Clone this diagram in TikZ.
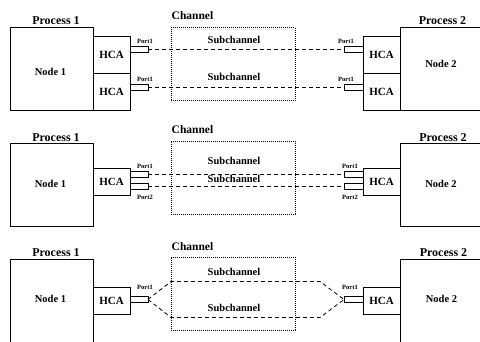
\documentclass[tikz,border=0pt]{standalone}
\usepackage{fontspec}
\setmainfont{Liberation Serif}
\begin{document}
\begin{tikzpicture}[x=1pt,y=-1pt,
  box/.style={draw, line width=0.8pt, rectangle, inner sep=0pt, outer sep=0pt},
  nodebox/.style={box, minimum width=83pt},
  hostbox/.style={box, minimum width=90pt},
  hcabox/.style={box, minimum width=37pt, font=\fontsize{11}{13}\selectfont\bfseries},
  portbox/.style={box, line width=0.7pt, minimum width=18pt, minimum height=6pt},
  chanbox/.style={draw, line width=0.8pt, dash pattern=on 0.9pt off 1.1pt, rectangle,
    inner sep=0pt, outer sep=0pt, minimum width=124pt, minimum height=73pt},
  link/.style={line width=0.8pt, dash pattern=on 4pt off 3pt},
  proclabel/.style={inner sep=0pt, font=\fontsize{12}{14}\selectfont\bfseries},
  chanlabel/.style={inner sep=0pt, font=\fontsize{11.5}{13}\selectfont\bfseries},
  nodelabel/.style={inner sep=0pt, font=\fontsize{10.5}{12}\selectfont\bfseries},
  sublabel/.style={inner sep=0pt, font=\fontsize{10.5}{12}\selectfont\bfseries},
  portlabel/.style={inner sep=0pt, font=\fontsize{6.5}{7}\selectfont\bfseries}]
\useasboundingbox (0,0) rectangle (480,341);
\clip (0,0) rectangle (480,341);

% ---------- first layout: two adapters per node ----------
\node[proclabel] (pa1) at (56,20.5) {Process 1};
\node[proclabel] (pb1) at (442.5,20.5) {Process 2};
\node[chanlabel] (ca1) at (192.5,15.5) {Channel};
\node[nodebox, minimum height=83pt] (na1) at (51.5,68.5) {};
\node[nodelabel] (ta1) at (50.5,72) {Node 1};
\node[hostbox, minimum height=83pt] (nb1) at (445,68.5) {};
\node[nodelabel] (tb1) at (441,64) {Node 2};
\node[hcabox, minimum height=37pt] (ha1) at (111.5,54.5) {HCA};
\node[hcabox, minimum height=37pt] (ha2) at (111.5,91.5) {HCA};
\node[hcabox, minimum height=37pt] (hb1) at (381.5,54.5) {HCA};
\node[hcabox, minimum height=37pt] (hb2) at (381.5,91.5) {HCA};
\node[portbox] (pta1) at (139,49.5) {};
\node[portbox] (pta2) at (139,87) {};
\node[portbox, minimum width=19pt] (ptb1) at (353.5,49.5) {};
\node[portbox, minimum width=19pt] (ptb2) at (353.5,87) {};
\node[portlabel] (la1) at (145,41) {Port1};
\node[portlabel] (la2) at (145,79) {Port1};
\node[portlabel] (lb1) at (346,41) {Port1};
\node[portlabel] (lb2) at (346,79) {Port1};
\node[chanbox] (ch1) at (233,64) {};
\node[sublabel] (sa1) at (234,40) {Subchannel};
\node[sublabel] (sa2) at (234,77) {Subchannel};
\draw[link] (pta1.east) -- (ptb1.west);
\draw[link] (pta2.east) -- (ptb2.west);

% ---------- second layout: one adapter, two ports ----------
\node[proclabel] (pa2) at (56,138) {Process 1};
\node[proclabel] (pb2) at (443,137.5) {Process 2};
\node[chanlabel] (ca2) at (192.5,130) {Channel};
\node[nodebox, minimum height=83pt] (na2) at (51.5,184.5) {};
\node[nodelabel] (ta2) at (50.5,184) {Node 1};
\node[hostbox, minimum height=83pt] (nb2) at (445,184.5) {};
\node[nodelabel] (tb2) at (441,184) {Node 2};
\node[hcabox, minimum height=27pt] (ha3) at (111.5,181.5) {HCA};
\node[hcabox, minimum height=27pt] (hb3) at (381.5,181.5) {HCA};
\node[portbox] (pta3) at (139,174.5) {};
\node[portbox] (pta4) at (139,186) {};
\node[portbox, minimum width=19pt] (ptb3) at (353.5,174.5) {};
\node[portbox, minimum width=19pt] (ptb4) at (353.5,186) {};
\node[portlabel] (la3) at (145,166) {Port1};
\node[portlabel] (la4) at (145,197) {Port2};
\node[portlabel] (lb3) at (350,166) {Port1};
\node[portlabel] (lb4) at (350,197) {Port2};
\node[chanbox] (ch2) at (233,177.5) {};
\node[sublabel] (sa3) at (234,161) {Subchannel};
\node[sublabel] (sa4) at (234,179) {Subchannel};
\draw[link] (pta3.east) -- (ptb3.west);
\draw[link] (pta4.east) -- (ptb4.west);

% ---------- third layout: one port, split channel ----------
\node[proclabel] (pa3) at (56,252.5) {Process 1};
\node[proclabel] (pb3) at (443.5,253) {Process 2};
\node[chanlabel] (ca3) at (192.5,246.5) {Channel};
\node[nodebox, minimum height=86pt] (na3) at (51.5,302) {};
\node[nodelabel] (ta3) at (50.5,299) {Node 1};
\node[hostbox, minimum height=86pt] (nb3) at (445,302) {};
\node[nodelabel] (tb3) at (441.5,299) {Node 2};
\node[hcabox, minimum height=27pt] (ha4) at (111.5,300.5) {HCA};
\node[hcabox, minimum height=27pt] (hb4) at (381.5,300.5) {HCA};
\node[portbox] (pta5) at (139,299.5) {};
\node[portbox, minimum width=19pt] (ptb5) at (353.5,299.5) {};
\node[portlabel] (la5) at (145,287) {Port1};
\node[portlabel] (lb5) at (350,287) {Port1};
\node[chanbox] (ch3) at (233,293.5) {};
\node[sublabel] (sa5) at (234,272) {Subchannel};
\node[sublabel] (sa6) at (234,308) {Subchannel};
\coordinate (ua) at (171,281.5);
\coordinate (ub) at (320,281.5);
\coordinate (va) at (171,317.5);
\coordinate (vb) at (320,317.5);
\draw[link] (pta5.east) -- (ua) -- (ub) -- (ptb5.west);
\draw[link] (pta5.east) -- (va) -- (vb) -- (ptb5.west);
\end{tikzpicture}
\end{document}
